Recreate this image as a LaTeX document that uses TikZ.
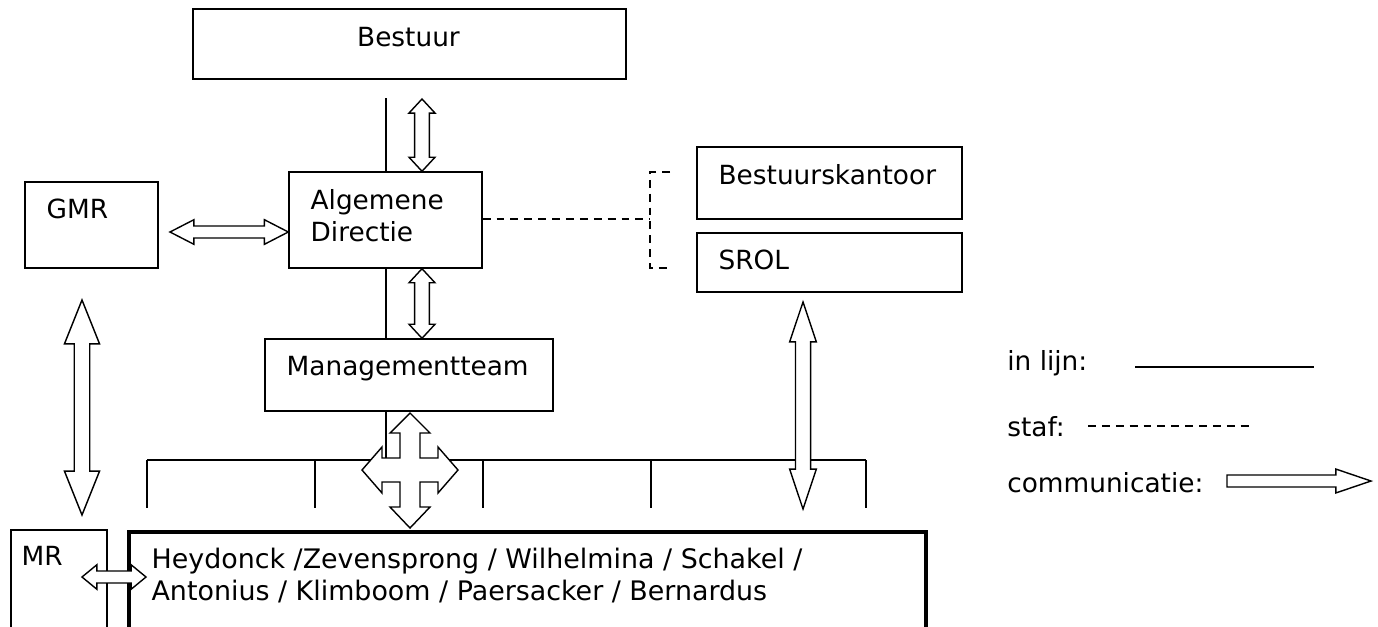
\documentclass[tikz,border=0pt]{standalone}
\usepackage{fontspec}
\setmainfont{DejaVu Sans}
\usetikzlibrary{positioning,fit,calc}

% hollow double arrow: from, to, shaft half width, head half width, head length
\newcommand{\commarrow}[5]{%
  \draw[commline] (#1) -- ($(#1)!#5!(#2)!#4!90:(#2)$) -- ($(#1)!#5!(#2)!#3!90:(#2)$)
    -- ($(#2)!#5!(#1)!#3!-90:(#1)$) -- ($(#2)!#5!(#1)!#4!-90:(#1)$) -- (#2)
    -- ($(#2)!#5!(#1)!#4!90:(#1)$) -- ($(#2)!#5!(#1)!#3!90:(#1)$)
    -- ($(#1)!#5!(#2)!#3!-90:(#2)$) -- ($(#1)!#5!(#2)!#4!-90:(#2)$) -- cycle;}

\begin{document}
\begin{tikzpicture}[
    x=0.02cm, y=-0.02cm,
    box/.style={rectangle, draw=black, line width=0.8pt, inner sep=0pt},
    txt/.style={font=\fontsize{15}{17.9}\selectfont, inner sep=0pt, anchor=base west, align=left},
    lijn/.style={line width=0.8pt},
    staf/.style={line width=0.8pt, dash pattern=on 4.5pt off 3.4pt},
    commline/.style={line width=0.8pt, fill=white, line join=miter}
]
\useasboundingbox (0,0) rectangle (1378,626);

% boxes
\node[box, fit={(193,9) (626,79)}] (bestuur) {};
\node[box, fit={(25,182) (158,268)}] (gmr) {};
\node[box, fit={(289,172) (482,268)}] (directie) {};
\node[box, fit={(697,147) (962,219)}] (kantoor) {};
\node[box, fit={(697,233) (962,292)}] (srol) {};
\node[box, fit={(265,339) (553,411)}] (mt) {};
\node[box, fit={(11,530) (107,660)}] (mr) {};
\node[box, line width=2pt, fit={(129,532) (926,660)}] (scholen) {};

% texts
\node[txt, anchor=base] (bestuurtxt) at ($(bestuur.north)+(-1,38)$) {Bestuur};
\node[txt] (gmrtxt) at ($(gmr.north west)+(22,37)$) {GMR};
\node[txt] (directietxt) at ($(directie.north west)+(22,70)$) {Algemene\\Directie};
\node[txt] (kantoortxt) at ($(kantoor.north west)+(22,38)$) {Bestuurskantoor};
\node[txt] (sroltxt) at ($(srol.north west)+(22,37)$) {SROL};
\node[txt] (mttxt) at ($(mt.north west)+(22,37)$) {Managementteam};
\node[txt] (mrtxt) at ($(mr.north west)+(11,36)$) {MR};
\node[txt, font=\fontsize{15.3}{17.9}\selectfont] (scholentxt) at ($(scholen.north west)+(24,70)$) {Heydonck /Zevensprong / Wilhelmina / Schakel /\\Antonius / Klimboom / Paersacker / Bernardus};

% in lijn
\coordinate (lijntop) at (386,98);
\draw[lijn] (lijntop) -- (lijntop |- directie.north);
\draw[lijn] (lijntop |- directie.south) -- (lijntop |- mt.north);
\coordinate (bus) at (386,460);
\draw[lijn] (lijntop |- mt.south) -- (bus);
\draw[lijn] (147,460) -- (866,460);
\foreach \x in {147,315,483,651,866}
  \draw[lijn] (\x,460) -- (\x,508);

% staf
\coordinate (haak) at (650,219);
\draw[staf] (directie.east |- haak) -- (haak);
\draw[staf] (670,172) -- (650,172) -- (650,268) -- (670,268);

% communicatie
\coordinate (bd1) at (422,99);
\coordinate (bd2) at (bd1 |- directie.north);
\commarrow{bd1}{bd2}{4.2pt}{7.4pt}{8pt}
\coordinate (dm1) at (bd1 |- directie.south);
\coordinate (dm2) at (bd1 |- mt.north);
\commarrow{dm1}{dm2}{4.2pt}{7.4pt}{8pt}
\coordinate (gd1) at (170,232);
\coordinate (gd2) at (gd1 -| directie.west);
\commarrow{gd1}{gd2}{3.4pt}{7pt}{13.6pt}
\coordinate (gm1) at (82,300);
\coordinate (gm2) at (82,515);
\commarrow{gm1}{gm2}{4.4pt}{10pt}{25pt}
\coordinate (sr1) at (803,302);
\coordinate (sr2) at (803,509);
\commarrow{sr1}{sr2}{4.3pt}{7.6pt}{22.7pt}
\coordinate (ms1) at (82,577);
\coordinate (ms2) at (146,577);
\commarrow{ms1}{ms2}{3.4pt}{7pt}{8.5pt}

% kruis onder managementteam
\draw[commline] (410,413) -- (430,433) -- (420,433) -- (420,458) -- (438,458) -- (438,447)
  -- (458,470) -- (438,493) -- (438,482) -- (420,482) -- (420,507) -- (430,507)
  -- (410,528) -- (390,507) -- (400,507) -- (400,482) -- (382,482) -- (382,493)
  -- (362,470) -- (382,447) -- (382,458) -- (400,458) -- (400,433) -- (390,433) -- cycle;

% legenda
\node[txt] (leglijn) at (1007,370) {in lijn:};
\node[txt] (legstaf) at (1007,436) {staf:};
\node[txt] (legcomm) at (1007,492) {communicatie:};
\coordinate (l1) at (1135,367);
\coordinate (l2) at (1314,367);
\draw[lijn] (l1) -- (l2);
\coordinate (s1) at (1088,426);
\coordinate (s2) at (1250,426);
\draw[staf] (s1) -- (s2);
\coordinate (c1) at (1227,481);
\coordinate (c2) at (1371,481);
\draw[commline] ($(c1)!3.4pt!90:(c2)$) -- ($(c2)!20pt!(c1)!3.4pt!-90:(c1)$)
  -- ($(c2)!20pt!(c1)!6.8pt!-90:(c1)$) -- (c2) -- ($(c2)!20pt!(c1)!6.8pt!90:(c1)$)
  -- ($(c2)!20pt!(c1)!3.4pt!90:(c1)$) -- ($(c1)!3.4pt!-90:(c2)$) -- cycle;

\end{tikzpicture}
\end{document}
